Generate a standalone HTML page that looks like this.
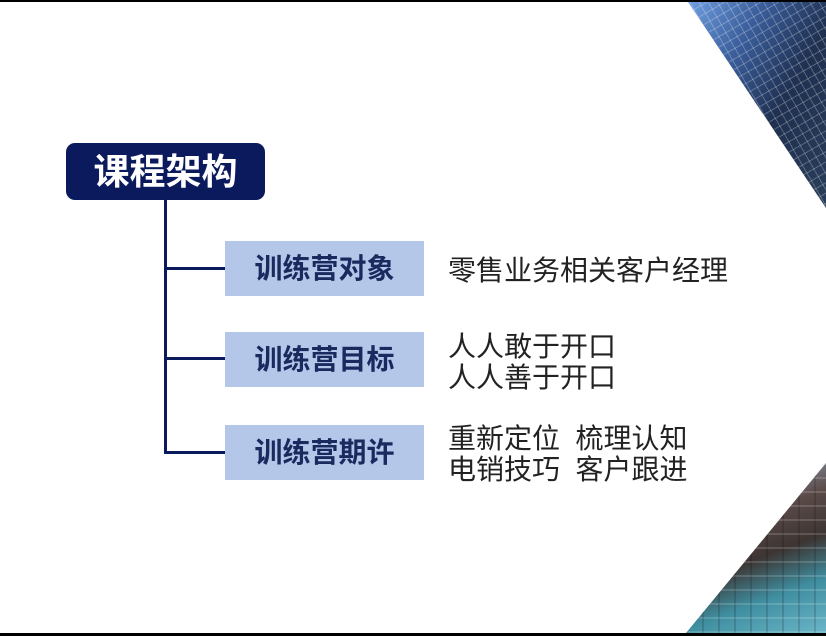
<!DOCTYPE html>
<html><head><meta charset="utf-8"><style>
html,body{margin:0;padding:0;}
body{width:826px;height:636px;position:relative;overflow:hidden;background:#fff;font-family:"Liberation Sans","Noto Sans CJK SC",sans-serif;}
.abs{position:absolute;}
.bar{position:absolute;left:0;width:826px;height:2px;background:#000;}
.title{left:66px;top:143px;width:199px;height:57px;background:#0b1a5c;border-radius:9px;color:#fff;font-weight:bold;font-size:36px;line-height:57px;text-align:center;}
.box{left:225px;width:199px;height:55px;background:#b4c7e9;color:#1a2a5e;font-weight:bold;font-size:28px;line-height:55px;text-align:center;}
.line{position:absolute;background:#0b1a5c;}
.txt{left:448px;font-size:28px;color:#222;line-height:31px;white-space:nowrap;}
.tr{left:688px;top:2px;width:138px;height:206px;clip-path:polygon(0 0,100% 0,100% 100%);
background:repeating-linear-gradient(60deg,rgba(255,255,255,0.25) 0 1px,transparent 1px 8px),repeating-linear-gradient(150deg,rgba(255,255,255,0.25) 0 1px,transparent 1px 9px),linear-gradient(120deg,#6f9ee0 0%,#3a5d9a 30%,#1f3050 60%,#2a3e5a 100%);}
.br{left:686px;top:463px;width:140px;height:170px;clip-path:polygon(100% 0,100% 100%,0 100%);
background:repeating-linear-gradient(0deg,rgba(255,255,255,0.15) 0 2px,transparent 2px 14px),repeating-linear-gradient(90deg,rgba(0,0,0,0.15) 0 2px,transparent 2px 16px),linear-gradient(160deg,#a8c8e8 0%,#5a4a48 35%,#3d3533 55%,#3f8ea0 75%,#6bb6c8 100%);}
</style></head><body>
<div class="bar" style="top:0"></div>
<div class="bar" style="top:633px;height:3px"></div>
<div class="abs tr"></div>
<div class="abs br"></div>
<div class="abs title">课程架构</div>
<div class="line" style="left:164px;top:200px;width:3px;height:254px"></div>
<div class="line" style="left:164px;top:267px;width:61px;height:3px"></div>
<div class="line" style="left:164px;top:357px;width:61px;height:3px"></div>
<div class="line" style="left:164px;top:451px;width:61px;height:3px"></div>
<div class="abs box" style="top:241px">训练营对象</div>
<div class="abs box" style="top:332px">训练营目标</div>
<div class="abs box" style="top:425px">训练营期许</div>
<div class="abs txt" style="top:255px">零售业务相关客户经理</div>
<div class="abs txt" style="top:331px">人人敢于开口<br>人人善于开口</div>
<div class="abs txt" style="top:423px">重新定位&nbsp;&nbsp;梳理认知<br>电销技巧&nbsp;&nbsp;客户跟进</div>
</body></html>
